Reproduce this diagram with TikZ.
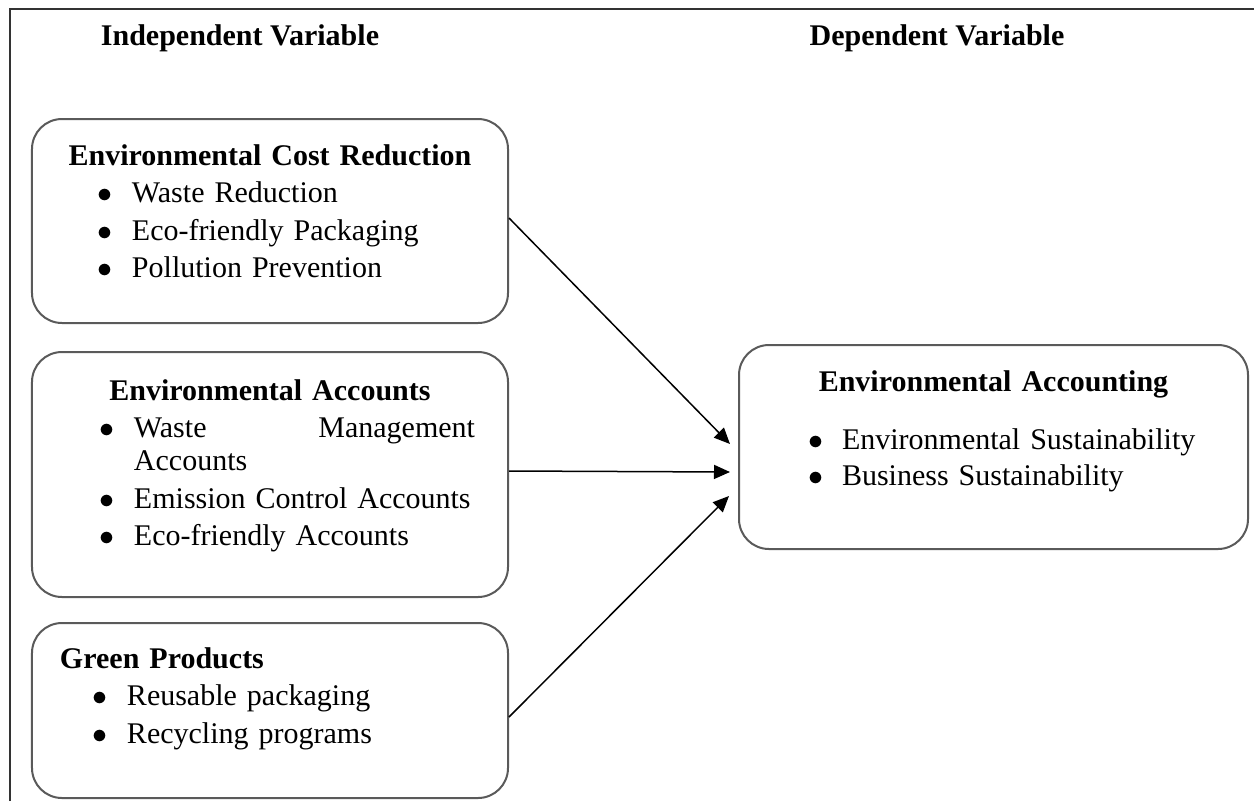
\documentclass[tikz,border=0pt]{standalone}
\usepackage{fontspec}
\setmainfont{Liberation Serif}
\usetikzlibrary{arrows.meta}
\definecolor{boxline}{HTML}{5A5A5A}
\definecolor{frameline}{HTML}{333333}
\tikzstyle{varbox} = [rectangle, rounded corners=12pt, draw=boxline, line width=0.8pt]
\tikzstyle{boxtext} = [anchor=base, inner sep=0pt, align=left, font=\fontsize{12pt}{15pt}\selectfont]
\tikzstyle{heading} = [anchor=base, inner sep=0pt, font=\fontsize{12pt}{15pt}\selectfont\bfseries]
\tikzstyle{link} = [line width=0.6pt, -{Triangle[length=6.4pt,width=5.6pt]}]
% bullet line: indent, bullet, text
\newcommand{\bitem}[2][27pt]{\hspace*{#1}\makebox[13.6pt][l]{$\bullet$}#2}
\newcommand{\boxhead}[1]{\makebox[\linewidth]{\textbf{#1}}}

\begin{document}
\begin{tikzpicture}[x=0.4pt, y=-0.4pt]
\useasboundingbox (0,0) rectangle (1254,801);
\draw [frameline, line width=0.8pt] (10,801) -- (10,9) -- (1254,9);

\node (indep) [heading] at (240,45) {Independent Variable};
\node (dep) [heading] at (937,45) {Dependent Variable};

% independent variables
\node (cost) [varbox, minimum width=190.4pt, minimum height=81.6pt] at (270,221) {};
\node (costtext) [boxtext, text width=190.4pt] at (270,165) {%
\boxhead{Environmental Cost Reduction}\\
\bitem[26.4pt]{Waste Reduction}\\
\bitem[26.4pt]{Eco-friendly Packaging}\\
\bitem[26.4pt]{Pollution Prevention}};

\node (accounts) [varbox, minimum width=190.4pt, minimum height=98pt] at (270,474.5) {};
\node (accountstext) [boxtext, text width=190.4pt] at (270,400) {%
\boxhead{Environmental Accounts}\\
\bitem[27.2pt]{\makebox[136.4pt][s]{Waste\hfill Management}}\\[-1.8pt]
\hspace*{40.8pt}Accounts\\
\bitem[27.2pt]{Emission Control Accounts}\\
\bitem[27.2pt]{Eco-friendly Accounts}};

\node (green) [varbox, minimum width=190.4pt, minimum height=70pt] at (270,710.5) {};
\node (greentext) [boxtext, text width=190.4pt] at (270,668) {%
\hspace*{11.2pt}\textbf{Green Products}\\
\bitem[24.4pt]{Reusable packaging}\\
\bitem[24.4pt]{Recycling programs}};

% dependent variable
\node (result) [varbox, minimum width=203.6pt, minimum height=81.6pt] at (993.5,447) {};
\node (resulttext) [boxtext, text width=203.6pt] at (993.5,391) {%
\boxhead{Environmental Accounting}\\[8.2pt]
\bitem[27.6pt]{Environmental Sustainability}\\[-0.6pt]
\bitem[27.6pt]{Business Sustainability}};

\coordinate (in1) at ([xshift=-3.2pt,yshift=1.2pt]result.west);
\coordinate (in2) at ([xshift=-3.2pt,yshift=-10pt]result.west);
\coordinate (in3) at ([xshift=-3.6pt,yshift=-19.6pt]result.west);

\draw [link] ([yshift=1.2pt]cost.east) -- (in1);
\draw [link] ([yshift=1.4pt]accounts.east) -- (in2);
\draw [link] ([yshift=-2.6pt]green.east) -- (in3);
\end{tikzpicture}
\end{document}
